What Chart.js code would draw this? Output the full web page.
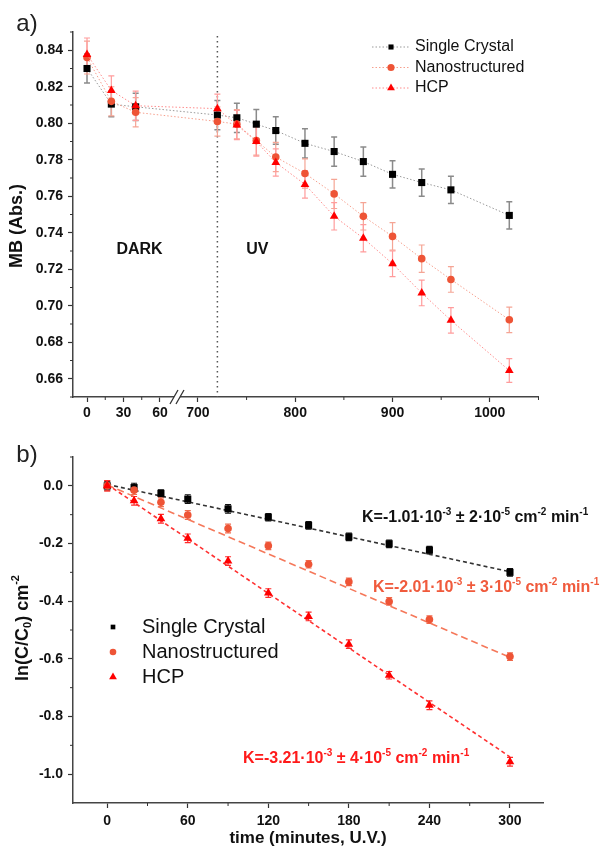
<!DOCTYPE html>
<html>
<head>
<meta charset="utf-8">
<script src="https://cdn.jsdelivr.net/npm/chart.js@4.4.1/dist/chart.umd.min.js"></script>
<style>
  body { margin: 0; background: #fff; }
  canvas { display: block; }
</style>
</head>
<body>
<canvas id="chartA" width="603" height="420"></canvas>
<canvas id="chartB" width="603" height="428"></canvas>
<script>
const FONT = "'Liberation Sans', Arial, sans-serif";

// ---- data, panel a (absorbance vs time, min) ----
const seriesNames = ["Single Crystal", "Nanostructured", "HCP"];
const timesA = [0, 20, 40, 720, 740, 760, 780, 810, 840, 870, 900, 930, 960, 1020];
const singleA = [0.830, 0.8105, 0.809, 0.8045, 0.803, 0.7995, 0.796, 0.789, 0.7845, 0.779, 0.772, 0.7675, 0.7635, 0.7495];
const nanoA = [0.836, 0.812, 0.806, 0.801, 0.7995, 0.7905, 0.7815, 0.7725, 0.7613, 0.749, 0.738, 0.7258, 0.7144, 0.6923];
const hcpA = [0.8377, 0.818, 0.8096, 0.808, 0.799, 0.790, 0.7785, 0.7665, 0.749, 0.737, 0.723, 0.707, 0.692, 0.6645];
const singleErrA = [0.008, 0.007, 0.0075, 0.008, 0.008, 0.008, 0.0075, 0.008, 0.008, 0.008, 0.0075, 0.0075, 0.0075, 0.0075];
const nanoErrA = [0.009, 0.008, 0.008, 0.008, 0.008, 0.008, 0.008, 0.008, 0.008, 0.0075, 0.0075, 0.0075, 0.007, 0.007];
const hcpErrA = [0.009, 0.008, 0.008, 0.008, 0.008, 0.008, 0.0075, 0.0075, 0.0075, 0.0075, 0.007, 0.007, 0.007, 0.0065];
const tickTimesA = [0, 30, 60, 700, 800, 900, 1000];
const minorTimesA = [15, 45, 750, 850, 950, 1050];
const tickValuesYA = [0.66, 0.68, 0.70, 0.72, 0.74, 0.76, 0.78, 0.80, 0.82, 0.84];
const minorValuesYA = [0.65, 0.67, 0.69, 0.71, 0.73, 0.75, 0.77, 0.79, 0.81, 0.83, 0.85];
const uvStart = 720;

// ---- data, panel b (ln(C/C0) vs UV time) ----
const timesB = [0, 20, 40, 60, 90, 120, 150, 180, 210, 240, 300];
const singleB = [0.0, -0.006, -0.026, -0.046, -0.080, -0.109, -0.137, -0.177, -0.201, -0.223, -0.300];
const nanoB = [0.0, -0.015, -0.057, -0.101, -0.148, -0.208, -0.272, -0.333, -0.401, -0.464, -0.592];
const hcpB = [0.0, -0.052, -0.114, -0.182, -0.261, -0.372, -0.453, -0.549, -0.657, -0.761, -0.957];
const singleErrB = [0.015, 0.015, 0.012, 0.015, 0.015, 0.013, 0.013, 0.013, 0.013, 0.013, 0.013];
const nanoErrB = [0.018, 0.015, 0.015, 0.015, 0.015, 0.013, 0.013, 0.013, 0.013, 0.013, 0.013];
const hcpErrB = [0.018, 0.015, 0.015, 0.015, 0.015, 0.015, 0.015, 0.015, 0.013, 0.015, 0.015];
const fitTimesB = [0, 300];
const fitSingleB = [0.005, -0.298];
const fitNanoB = [0.003, -0.595];
const fitHcpB = [0.005, -0.94];
const kValues = ["-1.01", "-2.01", "-3.21"];
const kErrors = ["2", "3", "4"];
const tickTimesB = [0, 60, 120, 180, 240, 300];
const minorTimesB = [30, 90, 150, 210, 270];
const tickValuesYB = [0.0, -0.2, -0.4, -0.6, -0.8, -1.0];
const minorValuesYB = [0.1, -0.1, -0.3, -0.5, -0.7, -0.9];

// broken time axis of panel a: the dark part is stretched, the UV part shifted
const DARK_STRETCH = 1.25;
const UV_SHIFT = 114;
function toAxis(t) {
  return t <= 100 ? t * DARK_STRETCH : UV_SHIFT + (t - 700);
}
const BREAK_AT = 93.5;

const markerColors = ["#000000", "#ee5436", "#ff0000"];
const markerStyles = ["rect", "circle", "triangle"];

// ---- helpers ----
function drawRich(ctx, parts, x, y, size, color, weight, align) {
  ctx.save();
  ctx.fillStyle = color;
  ctx.textBaseline = "middle";
  ctx.textAlign = "left";
  const fontFor = (m) => weight + " " + (m ? Math.round(size * 0.62) : size) + "px " + FONT;
  let total = 0;
  parts.forEach(([t, m]) => {
    ctx.font = fontFor(m);
    total += ctx.measureText(t).width;
  });
  let cx = align === "center" ? x - total / 2 : x;
  parts.forEach(([t, m]) => {
    ctx.font = fontFor(m);
    const dy = m === "sup" ? -size * 0.38 : m === "sub" ? size * 0.3 : 0;
    ctx.fillText(t, cx, y + dy);
    cx += ctx.measureText(t).width;
  });
  ctx.restore();
}

function drawRotated(ctx, parts, x, y, size) {
  ctx.save();
  ctx.translate(x, y);
  ctx.rotate(-Math.PI / 2);
  drawRich(ctx, parts, 0, 0, size, "#111", "bold", "center");
  ctx.restore();
}

function drawErrorBars(chart, sets) {
  const ctx = chart.ctx;
  const xs = chart.scales.x;
  const ys = chart.scales.y;
  sets.forEach((s) => {
    ctx.save();
    ctx.strokeStyle = s.color;
    ctx.lineWidth = s.width;
    ctx.beginPath();
    s.x.forEach((xv, i) => {
      const px = xs.getPixelForValue(xv);
      const top = ys.getPixelForValue(s.y[i] + s.err[i]);
      const bot = ys.getPixelForValue(s.y[i] - s.err[i]);
      ctx.moveTo(px, top);
      ctx.lineTo(px, bot);
      ctx.moveTo(px - s.cap, top);
      ctx.lineTo(px + s.cap, top);
      ctx.moveTo(px - s.cap, bot);
      ctx.lineTo(px + s.cap, bot);
    });
    ctx.stroke();
    ctx.restore();
  });
}

function drawMinorTicks(chart, xVals, yVals) {
  const { ctx, chartArea, scales } = chart;
  ctx.save();
  ctx.strokeStyle = "#333";
  ctx.lineWidth = 1;
  ctx.beginPath();
  xVals.forEach((v) => {
    const p = scales.x.getPixelForValue(v);
    ctx.moveTo(p, chartArea.bottom);
    ctx.lineTo(p, chartArea.bottom + 3);
  });
  yVals.forEach((v) => {
    const p = scales.y.getPixelForValue(v);
    ctx.moveTo(chartArea.left, p);
    ctx.lineTo(chartArea.left - 3, p);
  });
  ctx.stroke();
  ctx.restore();
}

function drawMarker(ctx, i, x, y, radius) {
  ctx.save();
  ctx.fillStyle = markerColors[i];
  ctx.strokeStyle = markerColors[i];
  Chart.helpers.drawPoint(ctx, { pointStyle: markerStyles[i], radius: radius, borderWidth: 0, rotation: 0 }, x, y);
  ctx.restore();
}

const tickFont = { family: FONT, size: 14, weight: "bold" };

function xyData(xs, ys) {
  return xs.map((t, i) => ({ x: t, y: ys[i] }));
}

// ---- PANEL A ----
const lineColorsA = ["#9a9a9a", "#f6a08e", "#ff8c8c"];
const errColorsA = ["#8a8a8a", "#f5a595", "#ff9c9c"];

const extrasA = {
  id: "extrasA",
  beforeDatasetsDraw(chart) {
    const { ctx, chartArea, scales } = chart;
    // start of UV illumination
    const vx = scales.x.getPixelForValue(toAxis(uvStart));
    ctx.save();
    ctx.strokeStyle = "#555";
    ctx.lineWidth = 1.5;
    ctx.setLineDash([1.5, 3.5]);
    ctx.beginPath();
    ctx.moveTo(vx, chartArea.top + 4);
    ctx.lineTo(vx, chartArea.bottom);
    ctx.stroke();
    ctx.restore();

    const ux = timesA.map(toAxis);
    drawErrorBars(chart, [
      { x: ux, y: singleA, err: singleErrA, color: errColorsA[0], width: 1.5, cap: 3 },
      { x: ux, y: nanoA, err: nanoErrA, color: errColorsA[1], width: 1.2, cap: 3 },
      { x: ux, y: hcpA, err: hcpErrA, color: errColorsA[2], width: 1.2, cap: 3 },
    ]);
  },
  afterDraw(chart) {
    const { ctx, chartArea, scales } = chart;
    drawMinorTicks(chart, minorTimesA.map(toAxis), minorValuesYA);

    // axis break
    const bx = scales.x.getPixelForValue(BREAK_AT);
    const by = chartArea.bottom;
    ctx.save();
    ctx.fillStyle = "#fff";
    ctx.fillRect(bx - 4, by - 2, 6, 4);
    ctx.strokeStyle = "#333";
    ctx.lineWidth = 1.3;
    ctx.beginPath();
    ctx.moveTo(bx - 8, by + 7);
    ctx.lineTo(bx, by - 7);
    ctx.moveTo(bx - 2, by + 7);
    ctx.lineTo(bx + 6, by - 7);
    ctx.stroke();
    ctx.restore();

    // region labels
    const ly = scales.y.getPixelForValue(0.731);
    drawRich(ctx, [["DARK", ""]], scales.x.getPixelForValue(54), ly, 16, "#111", "bold", "center");
    drawRich(ctx, [["UV", ""]], scales.x.getPixelForValue(175), ly, 16, "#111", "bold", "center");

    // panel letter and y title
    drawRich(ctx, [["a)", ""]], 27, 24, 24, "#222", "normal", "center");
    drawRotated(ctx, [["MB (Abs.)", ""]], 17, 226, 18);

    // legend
    seriesNames.forEach((name, i) => {
      const y = 47 + i * 20.5;
      ctx.save();
      ctx.strokeStyle = lineColorsA[i];
      ctx.lineWidth = 1;
      ctx.setLineDash([1.5, 2]);
      ctx.beginPath();
      ctx.moveTo(372, y);
      ctx.lineTo(410, y);
      ctx.stroke();
      ctx.restore();
      drawMarker(ctx, i, 391, y, i === 2 ? 4.5 : 3.6);
      drawRich(ctx, [[name, ""]], 415, y, 16, "#111", "normal", "left");
    });
  },
};

new Chart(document.getElementById("chartA"), {
  type: "line",
  data: {
    datasets: [
      { label: seriesNames[0], data: xyData(timesA.map(toAxis), singleA), borderColor: lineColorsA[0], borderWidth: 1, borderDash: [1.5, 2], pointStyle: "rect", pointRadius: 5, pointBackgroundColor: markerColors[0], pointBorderWidth: 0, order: 2 },
      { label: seriesNames[1], data: xyData(timesA.map(toAxis), nanoA), borderColor: lineColorsA[1], borderWidth: 1, borderDash: [1.5, 2], pointStyle: "circle", pointRadius: 3.8, pointBackgroundColor: markerColors[1], pointBorderWidth: 0, order: 1 },
      { label: seriesNames[2], data: xyData(timesA.map(toAxis), hcpA), borderColor: lineColorsA[2], borderWidth: 1, borderDash: [1.5, 2], pointStyle: "triangle", pointRadius: 5, pointBackgroundColor: markerColors[2], pointBorderWidth: 0, order: 0 },
    ],
  },
  options: {
    responsive: false,
    animation: false,
    events: [],
    layout: { padding: { left: 0, top: 32, right: 65, bottom: 0 } },
    plugins: { legend: { display: false }, tooltip: { enabled: false } },
    scales: {
      x: {
        type: "linear",
        min: -14.4,
        max: 463.5,
        afterBuildTicks: (s) => { s.ticks = tickTimesA.map((t) => ({ value: toAxis(t) })); },
        afterFit: (s) => { s.height = 23; },
        ticks: { callback: (v, i) => String(tickTimesA[i]), font: tickFont, color: "#111", padding: 3, maxRotation: 0, autoSkip: false },
        grid: { drawOnChartArea: false, tickLength: 5, tickColor: "#333", tickWidth: 1.2 },
        border: { color: "#444", width: 1.5 },
      },
      y: {
        type: "linear",
        min: 0.65,
        max: 0.85,
        afterBuildTicks: (s) => { s.ticks = tickValuesYA.map((v) => ({ value: v })); },
        afterFit: (s) => { s.width = 73; },
        ticks: { callback: (v) => v.toFixed(2), font: tickFont, color: "#111", padding: 5, autoSkip: false },
        grid: { drawOnChartArea: false, tickLength: 5, tickColor: "#333", tickWidth: 1.2 },
        border: { color: "#444", width: 1.5 },
      },
    },
  },
  plugins: [extrasA],
});

// ---- PANEL B ----
const errColorsB = ["#111", "#f06a4c", "#ff2a2a"];
const fitColorsB = ["#333", "#f5785a", "#ff3030"];
const kColors = ["#111", "#f05a3c", "#ff1a1a"];
const kPos = [[362, 98], [373, 168], [243, 339]];

const extrasB = {
  id: "extrasB",
  beforeDatasetsDraw(chart) {
    drawErrorBars(chart, [
      { x: timesB, y: singleB, err: singleErrB, color: errColorsB[0], width: 1.2, cap: 3 },
      { x: timesB, y: nanoB, err: nanoErrB, color: errColorsB[1], width: 1.2, cap: 3 },
      { x: timesB, y: hcpB, err: hcpErrB, color: errColorsB[2], width: 1.2, cap: 3 },
    ]);
  },
  afterDraw(chart) {
    const ctx = chart.ctx;
    drawMinorTicks(chart, minorTimesB, minorValuesYB);

    kValues.forEach((k, i) => {
      const parts = [
        ["K=" + k + "·10", ""], ["-3", "sup"],
        [" ± " + kErrors[i] + "·10", ""], ["-5", "sup"],
        [" cm", ""], ["-2", "sup"],
        [" min", ""], ["-1", "sup"],
      ];
      drawRich(ctx, parts, kPos[i][0], kPos[i][1], 16, kColors[i], "bold", "left");
    });

    drawRich(ctx, [["b)", ""]], 27, 35, 24, "#222", "normal", "center");
    drawRotated(ctx, [["ln(C/C", ""], ["0", "sub"], [") cm", ""], ["-2", "sup"]], 23, 208, 18);
    drawRich(ctx, [["time (minutes, U.V.)", ""]], 308, 418, 17, "#111", "bold", "center");

    seriesNames.forEach((name, i) => {
      const y = 207 + i * 25;
      drawMarker(ctx, i, 113, y, i === 2 ? 4.5 : 3.3);
      drawRich(ctx, [[name, ""]], 142, y, 20, "#111", "normal", "left");
    });
  },
};

const fitSet = (ys, color, dash) => ({
  data: xyData(fitTimesB, ys), showLine: true, borderColor: color, borderWidth: 1.6, borderDash: dash, pointRadius: 0, order: 5,
});
const pointSet = (label, ys, i, radius, order) => ({
  label: label, data: xyData(timesB, ys), showLine: false, pointStyle: markerStyles[i], pointRadius: radius,
  pointBackgroundColor: markerColors[i], pointBorderWidth: 0, order: order,
});

new Chart(document.getElementById("chartB"), {
  type: "scatter",
  data: {
    datasets: [
      fitSet(fitSingleB, fitColorsB[0], [4, 3]),
      fitSet(fitNanoB, fitColorsB[1], [7, 4]),
      fitSet(fitHcpB, fitColorsB[2], [4, 3]),
      pointSet(seriesNames[0], singleB, 0, 5, 2),
      pointSet(seriesNames[1], nanoB, 1, 3.8, 1),
      pointSet(seriesNames[2], hcpB, 2, 5, 0),
    ],
  },
  options: {
    responsive: false,
    animation: false,
    events: [],
    layout: { padding: { left: 0, top: 37, right: 60, bottom: 0 } },
    plugins: { legend: { display: false }, tooltip: { enabled: false } },
    scales: {
      x: {
        type: "linear",
        min: -25.5,
        max: 324.6,
        afterBuildTicks: (s) => { s.ticks = tickTimesB.map((v) => ({ value: v })); },
        afterFit: (s) => { s.height = 45; },
        ticks: { callback: (v) => String(v), font: tickFont, color: "#111", padding: 5, maxRotation: 0, autoSkip: false },
        grid: { drawOnChartArea: false, tickLength: 5, tickColor: "#333", tickWidth: 1.2 },
        border: { color: "#444", width: 1.5 },
      },
      y: {
        type: "linear",
        min: -1.1,
        max: 0.1,
        afterBuildTicks: (s) => { s.ticks = tickValuesYB.map((v) => ({ value: v })); },
        afterFit: (s) => { s.width = 73; },
        ticks: { callback: (v) => (Math.abs(v) < 1e-9 ? "0.0" : v.toFixed(1)), font: tickFont, color: "#111", padding: 5, autoSkip: false },
        grid: { drawOnChartArea: false, tickLength: 5, tickColor: "#333", tickWidth: 1.2 },
        border: { color: "#444", width: 1.5 },
      },
    },
  },
  plugins: [extrasB],
});
</script>
</body>
</html>
